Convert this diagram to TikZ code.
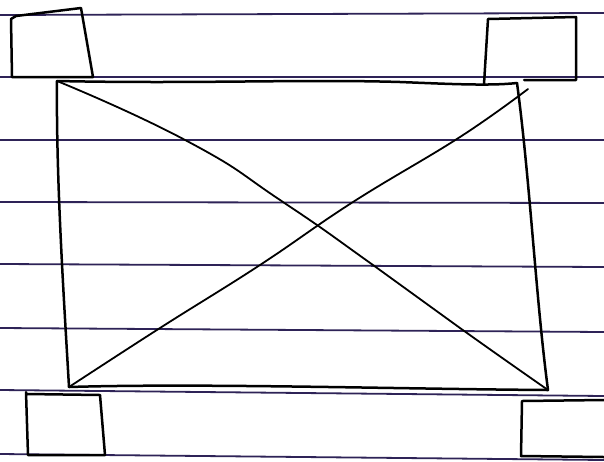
\documentclass[tikz,border=0pt]{standalone}
\begin{document}
\begin{tikzpicture}[x=1pt,y=-1pt,
  rule/.style={draw=rulecol,line width=1.8pt},
  ink/.style={draw=black,line width=2.5pt,line join=round,line cap=round},
  thin ink/.style={draw=black,line width=1.8pt,line cap=round}]
\definecolor{rulecol}{HTML}{2E2357}
\useasboundingbox (0,0) rectangle (604,461);
\fill[white] (0,0) rectangle (604,461);
% ruled lines of the paper
\draw[rule] (0,15) -- (604,13);
\draw[rule] (0,77) -- (604,77);
\draw[rule] (0,140) -- (604,140);
\draw[rule] (0,202) -- (604,203);
\draw[rule] (0,264) -- (604,267);
\draw[rule] (0,328) -- (604,332);
\draw[rule] (0,390) -- (604,396);
\draw[rule] (0,454) -- (604,460);
% main rectangle corners
\coordinate (tl) at (57,81);
\coordinate (tr) at (517,83);
\coordinate (br) at (548,390);
\coordinate (bl) at (69,387);
\draw[ink] (tl) .. controls (200,84) and (300,79) .. (400,82) .. controls (450,84) and (490,86) .. (tr);
\draw[ink] (tr) .. controls (530,180) and (536,300) .. (br);
\draw[ink] (br) .. controls (400,389) and (200,383) .. (bl);
\draw[ink] (bl) .. controls (64,300) and (56,180) .. (tl);
% diagonals
\coordinate (trx) at (528,89);
\draw[thin ink] plot[smooth,tension=0.9] coordinates {(tl) (187,141) (283,202) (373,265) (460,328) (br)};
\draw[thin ink] plot[smooth,tension=0.7] coordinates {(trx) (460,137) (353,202) (260,265) (160,328) (bl)};
% corner boxes
\draw[ink] (11,19) -- (16,16) -- (81,8) -- (93,77) -- (12,77) -- cycle;
\draw[ink] (484,84) -- (488,19) -- (576,17) -- (576,80) -- (524,80);
\draw[ink] (26,392) -- (28,455) -- (105,455) -- (100,395) -- (27,394);
\draw[ink] (604,400) -- (522,401) -- (521,456) -- (604,457);
\end{tikzpicture}
\end{document}
